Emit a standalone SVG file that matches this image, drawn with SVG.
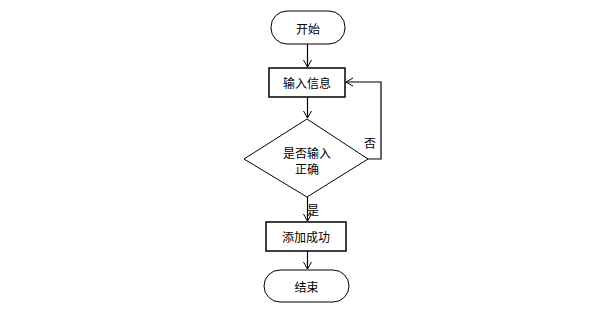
<svg xmlns="http://www.w3.org/2000/svg" width="591" height="312" viewBox="0 0 591 312">
<defs>
<marker id="arr" markerWidth="10" markerHeight="10" refX="8" refY="5" orient="auto" markerUnits="userSpaceOnUse">
<path d="M1,1 L8,5 L1,9" fill="none" stroke="#000" stroke-width="1"/>
</marker>
<style>
.box{fill:#fff;stroke:#000;stroke-width:1.5}
.term{fill:#fff;stroke:#000;stroke-width:1}
.t{font-family:"Noto Sans CJK SC","Noto Sans",sans-serif;font-size:12px;fill:#000;text-anchor:middle;dominant-baseline:central}
.c{fill:none;stroke:#000;stroke-width:1.2}
</style>
</defs>
<rect width="591" height="312" fill="#fff"/>
<g id="connectors">
<path class="c" d="M307.5,44 V67" marker-end="url(#arr)"/>
<path class="c" d="M307.5,97 V118" marker-end="url(#arr)"/>
<path class="c" d="M368,159 H381 V82 H346" marker-end="url(#arr)"/>
<path class="c" d="M307.5,197 V221" marker-end="url(#arr)"/>
<path class="c" d="M307.5,251 V269" marker-end="url(#arr)"/>
<text class="t" x="370" y="142">否</text>
<text class="t" x="313" y="209">是</text>
</g>
<g id="start">
<rect class="term" x="271" y="11" width="74" height="33" rx="16" ry="16"/>
<text class="t" x="308" y="28">开始</text>
</g>
<g id="input">
<rect class="box" x="269" y="68" width="76" height="29"/>
<text class="t" x="307" y="82">输入信息</text>
</g>
<g id="decision">
<polygon class="term" points="307,119 368,159 307,197 244,159"/>
<text class="t" x="307" y="152">是否输入</text>
<text class="t" x="307" y="168">正确</text>
</g>
<g id="add">
<rect class="box" x="266" y="222" width="80" height="29"/>
<text class="t" x="306" y="236">添加成功</text>
</g>
<g id="end">
<rect class="term" x="264" y="270" width="85" height="32" rx="16" ry="16"/>
<text class="t" x="306.5" y="286">结束</text>
</g>
</svg>
